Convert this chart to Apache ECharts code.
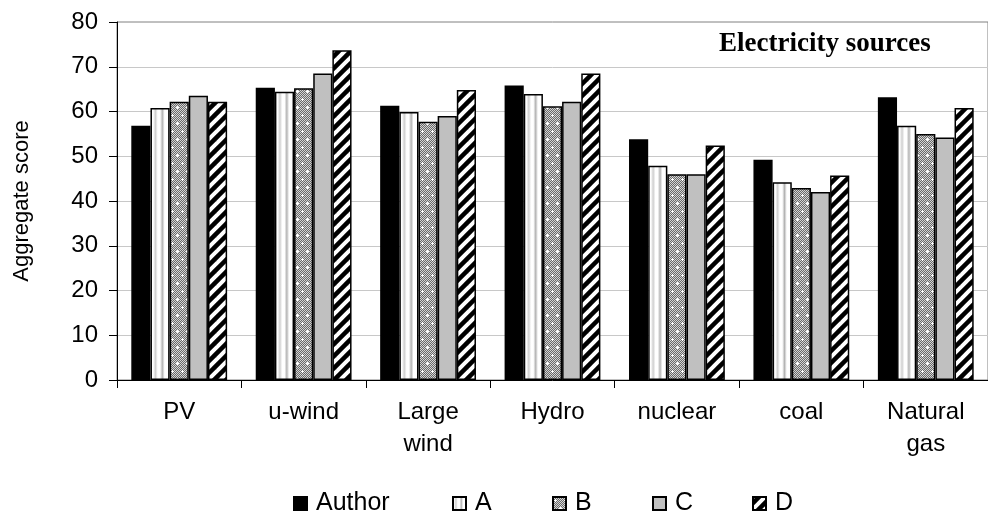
<!DOCTYPE html>
<html>
<head>
<meta charset="utf-8">
<style>
  html, body { margin: 0; padding: 0; background: #fff; }
  #chart { width: 988px; height: 518px; }
</style>
<script src="https://cdn.jsdelivr.net/npm/echarts@6/dist/echarts.min.js"></script>
</head>
<body>
<div id="chart"></div>
<script>
// Aggregate scores per electricity source, one array per assessor
const categories = ['PV', 'u-wind', 'Large\nwind', 'Hydro', 'nuclear', 'coal', 'Natural\ngas'];
const seriesNames = ['Author', 'A', 'B', 'C', 'D'];
const authorScores = [56.8, 65.3, 61.3, 65.8, 53.8, 49.2, 63.2];
const aScores = [60.8, 64.4, 59.9, 63.9, 47.9, 44.2, 56.8];
const bScores = [62.2, 65.2, 57.7, 61.2, 46.0, 42.9, 55.0];
const cScores = [63.5, 68.5, 59.0, 62.2, 46.0, 42.0, 54.2];
const dScores = [62.2, 73.7, 64.8, 68.5, 52.4, 45.7, 60.8];
const yTicks = [0, 10, 20, 30, 40, 50, 60, 70, 80];

const FONT = '"Liberation Sans", Arial, Helvetica, sans-serif';

// Small canvas tiles used as repeating fill patterns
function tile(w, h, paint) {
  const c = document.createElement('canvas');
  c.width = w; c.height = h;
  paint(c.getContext('2d'), w, h);
  return c;
}

// Fine grey checker with white sparkles
const dottedTile = tile(10, 16, (g, w, h) => {
  for (let y = 0; y < h; y++) {
    for (let x = 0; x < w; x++) {
      g.fillStyle = (x + y) % 2 ? '#6a6a6a' : '#d4d4d4';
      g.fillRect(x, y, 1, 1);
    }
  }
  g.fillStyle = '#ffffff';
  [[2, 3], [7, 11]].forEach(([cx, cy]) => {
    g.fillRect(cx - 1, cy, 3, 1);
    g.fillRect(cx, cy - 1, 1, 3);
  });
});

// Black with white diagonal stripes
const hatchTile = tile(12, 12, (g, w, h) => {
  g.fillStyle = '#000';
  g.fillRect(0, 0, w, h);
  g.strokeStyle = '#fff';
  g.lineWidth = 4;
  [[-w, h, w, -h], [0, 2 * h, 2 * w, 0], [0, h, w, 0]].forEach(([x1, y1, x2, y2]) => {
    g.beginPath(); g.moveTo(x1, y1); g.lineTo(x2, y2); g.stroke();
  });
});

// White bar with soft vertical grey stripes
const stripedFill = {
  type: 'linear', x: 0, y: 0, x2: 1, y2: 0,
  colorStops: [
    { offset: 0, color: '#ffffff' },
    { offset: 0.14, color: '#ffffff' },
    { offset: 0.26, color: '#cfcfcf' },
    { offset: 0.38, color: '#ffffff' },
    { offset: 0.5, color: '#ffffff' },
    { offset: 0.62, color: '#b4b4b4' },
    { offset: 0.74, color: '#ffffff' },
    { offset: 1, color: '#ffffff' }
  ]
};

const fills = [
  '#000000',
  stripedFill,
  { image: dottedTile, repeat: 'repeat' },
  '#c0c0c0',
  { image: hatchTile, repeat: 'repeat' }
];
const values = [authorScores, aScores, bScores, cScores, dScores];

const series = seriesNames.map((name, i) => ({
  name: name,
  type: 'bar',
  data: values[i],
  barGap: '0%',
  barCategoryGap: '23%',
  itemStyle: { color: fills[i], borderColor: '#000', borderWidth: 1.5 },
  emphasis: { disabled: true }
}));

const legendLeft = [293, 452, 552, 652, 752];
const legends = seriesNames.map((name, i) => ({
  data: [name],
  left: legendLeft[i],
  top: 491,
  padding: 0,
  icon: 'rect',
  itemWidth: 13,
  itemHeight: 13,
  itemGap: 5,
  selectedMode: false,
  textStyle: { fontFamily: FONT, fontSize: 25, color: '#000', padding: [0, 0, 0, 4] }
}));

const chart = echarts.init(document.getElementById('chart'), null, { renderer: 'canvas' });
chart.setOption({
  animation: false,
  backgroundColor: '#ffffff',
  title: {
    text: 'Electricity sources',
    left: 719,
    top: 31,
    padding: 0,
    textStyle: { fontFamily: '"Liberation Serif", "Times New Roman", serif', fontWeight: 'bold', fontSize: 27, color: '#000' }
  },
  legend: legends,
  grid: {
    left: 117, top: 22, width: 879, height: 358,
    show: true, borderColor: '#808080', borderWidth: 1, backgroundColor: 'transparent'
  },
  xAxis: {
    type: 'category',
    data: categories,
    axisLine: { lineStyle: { color: '#000', width: 1 } },
    axisTick: { show: true, length: 8, lineStyle: { color: '#000' } },
    axisLabel: { fontFamily: FONT, fontSize: 24, color: '#000', margin: 16, lineHeight: 32, interval: 0 }
  },
  yAxis: {
    type: 'value',
    min: yTicks[0],
    max: yTicks[yTicks.length - 1],
    interval: yTicks[1] - yTicks[0],
    name: 'Aggregate score',
    nameLocation: 'middle',
    nameRotate: 90,
    nameGap: 84,
    nameTextStyle: { fontFamily: FONT, fontSize: 22, color: '#000' },
    axisLine: { show: true, lineStyle: { color: '#000', width: 1 } },
    axisTick: { show: true, length: 8, lineStyle: { color: '#000' } },
    axisLabel: { fontFamily: FONT, fontSize: 24, color: '#000', margin: 19 },
    splitLine: { show: true, showMaxLine: false, lineStyle: { color: '#c8c8c8', width: 1 } }
  },
  series: series
});
</script>
</body>
</html>
